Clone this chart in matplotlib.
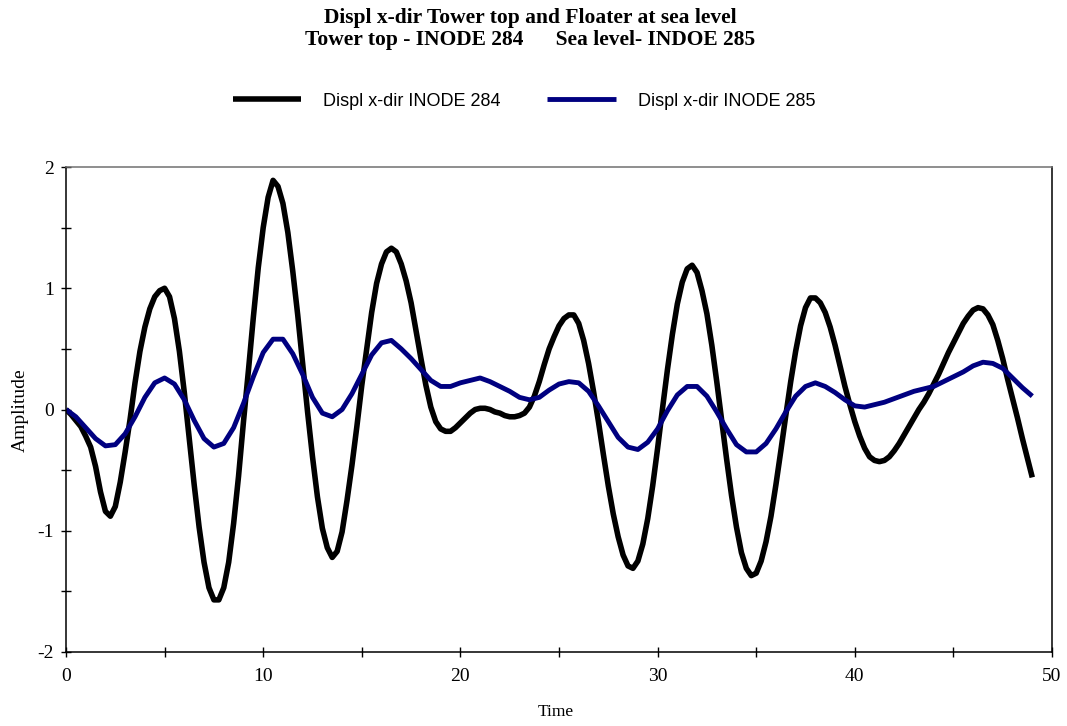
import numpy as np
import matplotlib
matplotlib.use("Agg")
from matplotlib import pyplot as plt
from matplotlib.ticker import MultipleLocator

plt.rcParams['axes.unicode_minus'] = False

TITLE_1 = "Displ x-dir Tower top and Floater at sea level"
TITLE_2 = "Tower top - INODE 284      Sea level- INDOE 285"
LABEL_284 = "Displ x-dir INODE 284"
LABEL_285 = "Displ x-dir INODE 285"

# tower top displacement, read every 0.25 s (0 .. 49)
disp_284 = [
    0.00, -0.04, -0.09, -0.14, -0.22, -0.31, -0.47, -0.68,
    -0.84, -0.88, -0.80, -0.60, -0.35, -0.08, 0.22, 0.48,
    0.68, 0.83, 0.93, 0.98, 1.00, 0.93, 0.75, 0.48,
    0.14, -0.24, -0.62, -0.97, -1.26, -1.47, -1.57, -1.57,
    -1.47, -1.26, -0.94, -0.55, -0.10, 0.32, 0.76, 1.17,
    1.50, 1.75, 1.89, 1.84, 1.70, 1.46, 1.14, 0.78,
    0.38, -0.02, -0.39, -0.72, -0.98, -1.14, -1.22, -1.17,
    -1.01, -0.75, -0.46, -0.14, 0.20, 0.50, 0.80, 1.04,
    1.20, 1.30, 1.33, 1.30, 1.20, 1.06, 0.88, 0.65,
    0.42, 0.20, 0.02, -0.10, -0.16, -0.18, -0.18, -0.15,
    -0.11, -0.07, -0.03, 0.00, 0.01, 0.01, 0.00, -0.02,
    -0.03, -0.05, -0.06, -0.06, -0.05, -0.03, 0.02, 0.11,
    0.23, 0.37, 0.50, 0.60, 0.69, 0.75, 0.78, 0.78,
    0.71, 0.57, 0.38, 0.15, -0.10, -0.37, -0.63, -0.86,
    -1.05, -1.20, -1.29, -1.31, -1.25, -1.11, -0.90, -0.63,
    -0.32, 0.01, 0.33, 0.62, 0.87, 1.05, 1.16, 1.19,
    1.13, 0.98, 0.79, 0.53, 0.23, -0.09, -0.41, -0.71,
    -0.97, -1.18, -1.31, -1.37, -1.35, -1.25, -1.09, -0.88,
    -0.62, -0.34, -0.05, 0.23, 0.48, 0.69, 0.84, 0.92,
    0.92, 0.88, 0.80, 0.68, 0.53, 0.36, 0.19, 0.04,
    -0.10, -0.22, -0.32, -0.39, -0.42, -0.43, -0.42, -0.39,
    -0.34, -0.28, -0.21, -0.14, -0.07, 0.00, 0.06, 0.13,
    0.21, 0.29, 0.38, 0.47, 0.55, 0.63, 0.71, 0.77,
    0.82, 0.84, 0.83, 0.78, 0.70, 0.57, 0.42, 0.25,
    0.09, -0.07, -0.24, -0.40, -0.56,
]

# sea level displacement, read every 0.5 s (0 .. 49)
disp_285 = [
    0.00, -0.06, -0.15, -0.24, -0.30, -0.29, -0.20, -0.06, 0.10, 0.22,
    0.26, 0.21, 0.08, -0.09, -0.24, -0.31, -0.28, -0.15, 0.05, 0.27,
    0.47, 0.58, 0.58, 0.46, 0.29, 0.10, -0.03, -0.06, 0.00, 0.13,
    0.29, 0.45, 0.55, 0.57, 0.50, 0.42, 0.33, 0.24, 0.19, 0.19,
    0.22, 0.24, 0.26, 0.23, 0.19, 0.15, 0.10, 0.08, 0.10, 0.16,
    0.21, 0.23, 0.22, 0.15, 0.03, -0.10, -0.23, -0.31, -0.33, -0.27,
    -0.16, -0.01, 0.12, 0.19, 0.19, 0.11, -0.02, -0.16, -0.29, -0.35,
    -0.35, -0.28, -0.16, -0.02, 0.11, 0.19, 0.22, 0.19, 0.14, 0.08,
    0.03, 0.02, 0.04, 0.06, 0.09, 0.12, 0.15, 0.17, 0.19, 0.23,
    0.27, 0.31, 0.36, 0.39, 0.38, 0.34, 0.26, 0.18, 0.11,
]

time_284 = np.arange(len(disp_284)) * 0.25
time_285 = np.arange(len(disp_285)) * 0.5

W, H = 1067, 726
fig = plt.figure(figsize=(W / 100, H / 100), dpi=100)
ax = fig.add_axes([66 / W, 1 - 652 / H, (1052 - 66) / W, (652 - 167) / H])

l1, = ax.plot(time_284, disp_284, color="black", lw=4.0, solid_joinstyle="round",
              solid_capstyle="butt", label=LABEL_284)
l2, = ax.plot(time_285, disp_285, color="#000080", lw=3.5, solid_joinstyle="round",
              solid_capstyle="butt", label=LABEL_285)

ax.set_xlim(0, 50)
ax.set_ylim(-2, 2)
ax.xaxis.set_major_locator(MultipleLocator(10))
ax.xaxis.set_minor_locator(MultipleLocator(5))
ax.yaxis.set_major_locator(MultipleLocator(1))
ax.yaxis.set_minor_locator(MultipleLocator(0.5))
ax.tick_params(which="both", direction="inout", length=7, width=1, color="black")
ax.tick_params(axis="x", which="major", pad=8)
ax.tick_params(axis="y", which="major", pad=5)
for lab in ax.get_xticklabels() + ax.get_yticklabels():
    lab.set_family("Liberation Serif")
    lab.set_fontsize(14)

for side in ["left", "bottom", "right"]:
    ax.spines[side].set_color("black")
    ax.spines[side].set_linewidth(1.1)
ax.spines["top"].set_color("#707070")
ax.spines["top"].set_linewidth(1.1)

fig.text(530 / W, 1 - 18 / H, TITLE_1, ha="center", va="center",
         family="Liberation Serif", weight="bold", fontsize=15.5)
fig.text(530 / W, 1 - 40 / H, TITLE_2, ha="center", va="center",
         family="Liberation Serif", weight="bold", fontsize=15.5)

fig.text(20 / W, 1 - 410 / H, "Amplitude", rotation=90, ha="center", va="center",
         family="Liberation Serif", fontsize=14)
fig.text(556 / W, 1 - 712 / H, "Time", ha="center", va="center",
         family="Liberation Serif", fontsize=12.5)

fig.legend(handles=[l1, l2], loc="center", bbox_to_anchor=(524 / W, 1 - 101 / H),
           ncol=2, frameon=False, handlelength=3.8, handletextpad=1.2,
           columnspacing=2.6, borderpad=0,
           prop={"family": "Liberation Sans", "size": 13})

fig.savefig("out.png", dpi=100)
